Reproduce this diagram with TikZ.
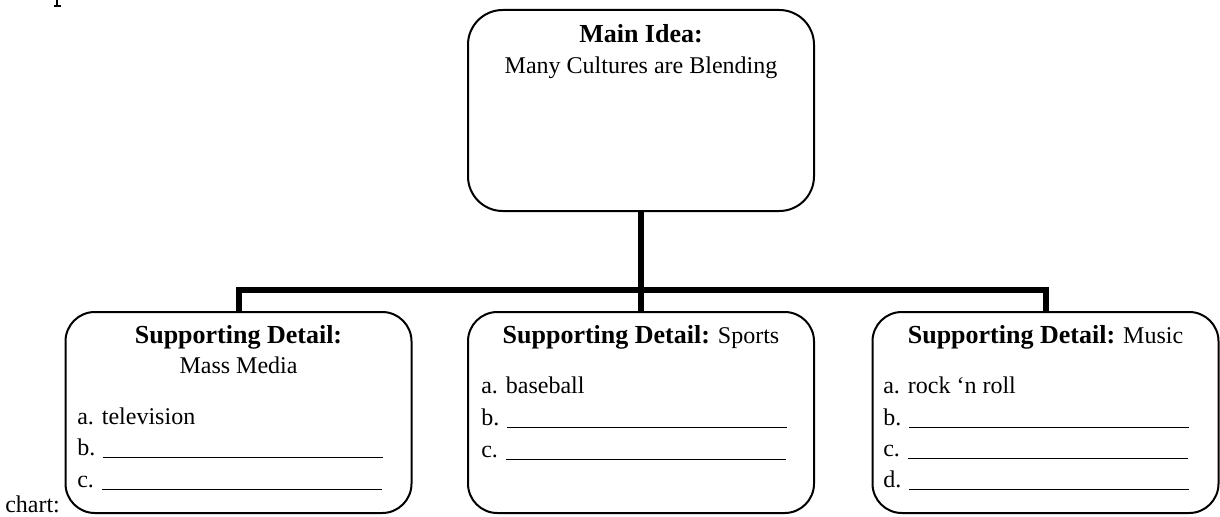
\documentclass[tikz,border=0pt]{standalone}
\usepackage{fontspec}
\setmainfont{Liberation Serif}
\newcommand{\blankline}{\rule[-2.2pt]{210pt}{0.9pt}}
\newcommand{\hd}[1]{{\fontsize{19.5pt}{22pt}\selectfont\textbf{#1}}}
\begin{document}
\begin{tikzpicture}[x=0.75pt,y=-0.75pt,
  box/.style={draw=black, line width=1.5pt, rounded corners=22pt,
    minimum width=259.5pt, minimum height=150.75pt, inner sep=0pt},
  conn/.style={draw=black, line width=4.5pt},
  txt/.style={font=\fontsize{18pt}{22pt}\selectfont, inner sep=0pt}]
\useasboundingbox (0,0) rectangle (1220,517);

% fragment at top left
\draw[line width=1.4pt] (57,0) -- (57,6);
\draw[line width=0.9pt] (54,6) -- (60.5,6);

% boxes
\node[box, rounded corners=26pt] (main) at (641,110.5) {};
\node[box] (d1) at (238.5,412.5) {};
\node[box] (d2) at (641,412.5) {};
\node[box] (d3) at (1045.5,412.5) {};

% connectors
\coordinate (bar) at (641,290);
\draw[conn] (main.south) -- (main.south |- bar);
\draw[conn] (d1.north) -- (d1.north |- bar) -- (d3.north |- bar) -- (d3.north);
\draw[conn] (d2.north |- bar) -- (d2.north);

% main idea
\node[txt, anchor=base] (mainA) at (641,43) {\hd{Main Idea:}};
\node[txt, anchor=base] (mainB) at (641,74) {Many Cultures are Blending};

% left box
\node[txt, anchor=base] (l1) at (238.5,343) {\hd{Supporting Detail:}};
\node[txt, anchor=base] (l2) at (238.5,373) {Mass Media};
\node[txt, anchor=base west] (l3) at (77,424) {a. television};
\node[txt, anchor=base west] (l4) at (77,455) {b. \blankline};
\node[txt, anchor=base west] (l5) at (77,487) {c. \blankline};

% middle box
\node[txt, anchor=base] (m1) at (641,343) {\hd{Supporting Detail:} Sports};
\node[txt, anchor=base west] (m2) at (481,393) {a. baseball};
\node[txt, anchor=base west] (m3) at (481,425) {b. \blankline};
\node[txt, anchor=base west] (m4) at (481,457) {c. \blankline};

% right box
\node[txt, anchor=base] (r1) at (1045.5,343) {\hd{Supporting Detail:} Music};
\node[txt, anchor=base west] (r2) at (883,393) {a. rock ‘n roll};
\node[txt, anchor=base west] (r3) at (883,425) {b. \blankline};
\node[txt, anchor=base west] (r4) at (883,456) {c. \blankline};
\node[txt, anchor=base west] (r5) at (883,487) {d. \blankline};

% caption fragment
\node[txt, anchor=base west] (chart) at (5,512) {chart:};
\end{tikzpicture}
\end{document}
